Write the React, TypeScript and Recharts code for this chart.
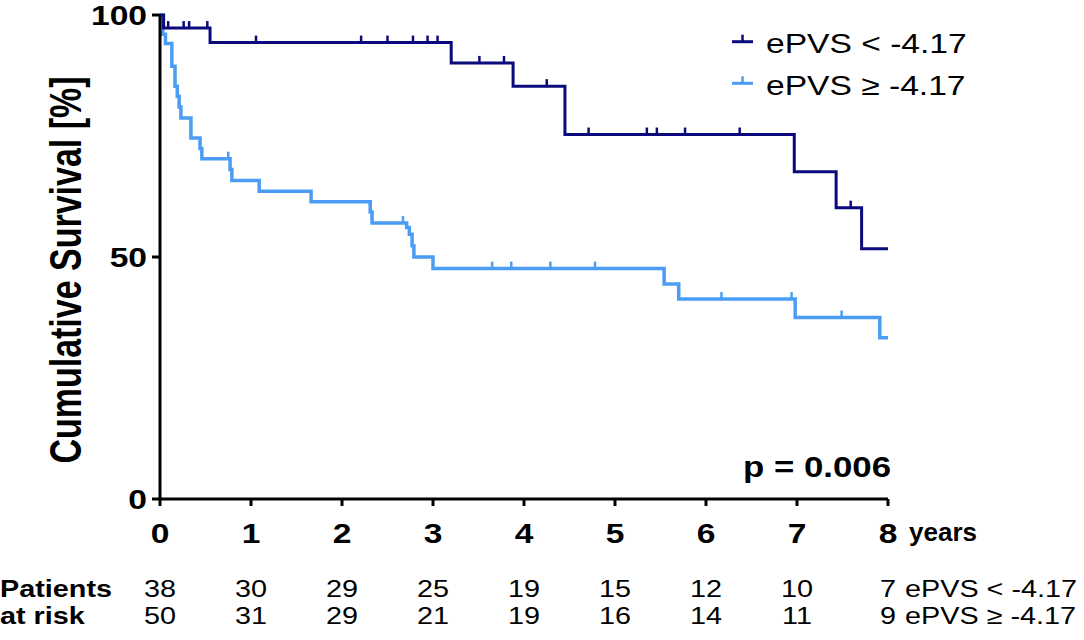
import React from 'react';
import { ComposedChart, Line, Scatter, XAxis, YAxis } from 'recharts';

// Kaplan-Meier steps (years, survival %)
const lowTimes = [0, 0.04, 0.55, 3.2, 3.88, 4.45, 6.97, 7.43, 7.71, 8];
const lowSurv = [100, 97.3, 94.3, 90.1, 85.3, 75.3, 67.6, 60.2, 51.7, 51.7];
const lowCensorTimes = [0.09, 0.26, 0.32, 0.52, 1.055, 2.21, 2.5, 2.78, 2.94, 3.05, 3.51, 3.78, 4.25, 4.71, 5.35, 5.46, 5.77, 6.37, 7.59];
const lowCensorSurv = [97.3, 97.3, 97.3, 97.3, 94.3, 94.3, 94.3, 94.3, 94.3, 94.3, 90.1, 90.1, 85.3, 75.3, 75.3, 75.3, 75.3, 75.3, 60.2];

const highTimes = [0, 0.02, 0.03, 0.06, 0.13, 0.165, 0.19, 0.21, 0.23, 0.34, 0.44, 0.46, 0.77, 0.79, 1.09, 1.66, 2.31, 2.33, 2.71, 2.74, 2.77, 2.79, 3.0, 5.54, 5.7, 6.98, 7.91, 8];
const highSurv = [100, 98, 96, 94.1, 89.4, 85.3, 83.2, 81, 78.7, 74.6, 72.4, 70.3, 68.1, 65.8, 63.6, 61.4, 59.3, 57, 56.1, 54.7, 52.3, 50, 47.6, 44.4, 41.3, 37.5, 33.3, 33.3];
const highCensorTimes = [0.75, 2.67, 3.65, 3.86, 4.29, 4.78, 6.17, 6.94, 7.49];
const highCensorSurv = [70.3, 57, 47.6, 47.6, 47.6, 47.6, 41.3, 41.3, 37.5];

const yearTicks = [0, 1, 2, 3, 4, 5, 6, 7, 8];
const atRiskLow = [38, 30, 29, 25, 19, 15, 12, 10, 7];
const atRiskHigh = [50, 31, 29, 21, 19, 16, 14, 11, 9];
const survTicks = [0, 50, 100];

const labelLow = 'ePVS < -4.17';
const labelHigh = 'ePVS \u2265 -4.17';

const DARK = '#0a0a7c';
const LIGHT = '#4a9cf4';
const FONT = '"Liberation Sans", Arial, sans-serif';
const SX = 1.2;

const toRows = (ts: number[], ss: number[]) => ts.map((t, i) => ({ t, s: ss[i] }));
const lowData = toRows(lowTimes, lowSurv);
const highData = toRows(highTimes, highSurv);
const lowCensor = toRows(lowCensorTimes, lowCensorSurv);
const highCensor = toRows(highCensorTimes, highCensorSurv);

function T({ x, y, anchor = 'start', size, bold = false, sx = SX, children }: any) {
  return (
    <text
      transform={`translate(${x},${y}) scale(${sx},1)`}
      textAnchor={anchor}
      fontSize={size}
      fontWeight={bold ? 'bold' : 'normal'}
      fontFamily={FONT}
      fill="#000"
    >
      {children}
    </text>
  );
}

function XTick(props: any) {
  const { x, payload, index } = props;
  return (
    <g>
      <T x={x} y={543} anchor="middle" size={28} bold>{payload.value}</T>
      <T x={x} y={597} anchor="middle" size={24}>{atRiskLow[index]}</T>
      <T x={x} y={624} anchor="middle" size={24}>{atRiskHigh[index]}</T>
    </g>
  );
}

function YTick(props: any) {
  const { x, y, payload } = props;
  return <T x={x} y={y + 10} anchor="end" size={28} bold>{payload.value}</T>;
}

const censorShape = (color: string) => (p: any) => (
  <line x1={p.cx} y1={p.cy + 1} x2={p.cx} y2={p.cy - 7} stroke={color} strokeWidth={2.5} />
);

function LegendItem({ y, color, label }: any) {
  return (
    <g>
      <line x1={732} y1={y} x2={753} y2={y} stroke={color} strokeWidth={3} />
      <line x1={742.5} y1={y} x2={742.5} y2={y - 7} stroke={color} strokeWidth={2.5} />
      <T x={766} y={y + 11.5} size={28}>{label}</T>
    </g>
  );
}

export default function App() {
  return (
    <div style={{ position: 'absolute', left: 0, top: 0, width: 1084, height: 640, background: '#fff' }}>
      <ComposedChart width={1084} height={640} margin={{ top: 15, right: 196, bottom: 0, left: 0 }}>
        <XAxis
          dataKey="t"
          type="number"
          domain={[0, 8]}
          ticks={yearTicks}
          height={141}
          axisLine={{ stroke: '#000', strokeWidth: 3 }}
          tickLine={{ stroke: '#000', strokeWidth: 3 }}
          tickSize={7}
          tick={<XTick />}
          interval={0}
        />
        <YAxis
          dataKey="s"
          type="number"
          domain={[0, 100]}
          ticks={survTicks}
          width={160}
          axisLine={{ stroke: '#000', strokeWidth: 3 }}
          tickLine={{ stroke: '#000', strokeWidth: 3 }}
          tickSize={8}
          tickMargin={5}
          tick={<YTick />}
          interval={0}
        />
        <Line data={highData} dataKey="s" type="stepAfter" stroke={LIGHT} strokeWidth={3.5} dot={false} isAnimationActive={false} />
        <Line data={lowData} dataKey="s" type="stepAfter" stroke={DARK} strokeWidth={3} dot={false} isAnimationActive={false} />
        <Scatter data={highCensor} dataKey="s" shape={censorShape(LIGHT)} isAnimationActive={false} />
        <Scatter data={lowCensor} dataKey="s" shape={censorShape(DARK)} isAnimationActive={false} />
      </ComposedChart>
      <svg width={1084} height={640} style={{ position: 'absolute', left: 0, top: 0, pointerEvents: 'none' }}>
        <text
          transform={`translate(81,270) scale(1.3,1) rotate(-90)`}
          textAnchor="middle"
          fontSize={34}
          fontWeight="bold"
          fontFamily={FONT}
        >
          Cumulative Survival [%]
        </text>
        <LegendItem y={41.7} color={DARK} label={labelLow} />
        <LegendItem y={83.3} color={LIGHT} label={labelHigh} />
        <T x={891} y={477} anchor="end" size={29} bold>p = 0.006</T>
        <T x={909} y={541} size={26} bold sx={1}>years</T>
        <T x={0} y={597} size={24} bold>Patients</T>
        <T x={0} y={624} size={24} bold>at risk</T>
        <T x={905} y={597} size={24}>{labelLow}</T>
        <T x={905} y={624} size={24}>{labelHigh}</T>
      </svg>
    </div>
  );
}
